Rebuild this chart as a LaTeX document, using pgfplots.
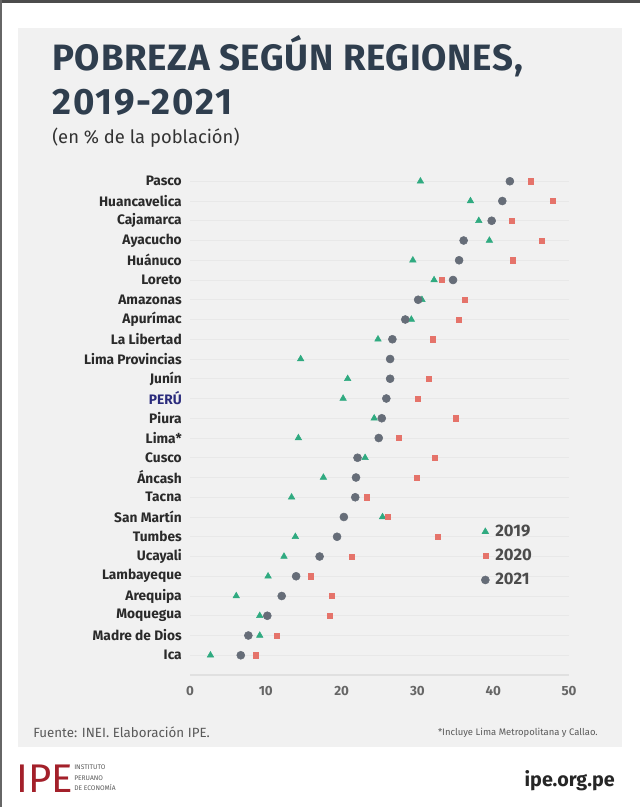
\documentclass[border=0pt]{standalone}
\usepackage{pgfplots}
\pgfplotsset{compat=1.18}
\usepackage{fontspec}
\setmainfont{Fira Sans}
\definecolor{panel}{HTML}{F1F1F1}
\definecolor{ttl}{HTML}{2F3E4E}
\definecolor{lbl}{HTML}{2A2A2A}
\definecolor{peru}{HTML}{2A2B7C}
\definecolor{gA}{HTML}{2FAA80}
\definecolor{sB}{HTML}{E5736A}
\definecolor{cC}{HTML}{666D78}
\definecolor{ipered}{HTML}{A3202A}
\begin{document}
\begin{tikzpicture}
\begin{scope}[x=0.75pt,y=-0.75pt]
\fill[white] (0,0) rectangle (640,807);
\fill[black!70] (0,0) rectangle (640,3);
\fill[black!60] (0,0) rectangle (2,807);
\fill[panel] (18,28) rectangle (622,747);
\node[anchor=base west,inner sep=0pt,text=ttl,font=\fontsize{27.5}{30}\selectfont\bfseries\addfontfeature{LetterSpace=2}] at (52,70) {POBREZA SEGÚN REGIONES,};
\node[anchor=base west,inner sep=0pt,text=ttl,font=\fontsize{27.5}{30}\selectfont\bfseries\addfontfeature{LetterSpace=5}] at (52,114) {2019-2021};
\node[anchor=base west,inner sep=0pt,text=black!80,font=\fontsize{13.8}{15}\selectfont] at (52,143) {(en \% de la población)};
\node[anchor=base west,inner sep=0pt,text=black!65,font=\fontsize{10}{11}\selectfont] at (33,737) {Fuente: INEI. Elaboración IPE.};
\node[anchor=base east,inner sep=0pt,text=black!65,font=\fontsize{7.1}{8}\selectfont] at (598,735) {*Incluye Lima Metropolitana y Callao.};
\node[anchor=base west,inner sep=0pt,text=ipered,font=\fontsize{30}{32}\selectfont] at (16,792) {IPE};
\node[anchor=base west,inner sep=0pt,text=black!65,font=\fontsize{5}{6}\selectfont] at (74,769.5) {INSTITUTO};
\node[anchor=base west,inner sep=0pt,text=black!65,font=\fontsize{5}{6}\selectfont] at (74,780) {PERUANO};
\node[anchor=base west,inner sep=0pt,text=black!65,font=\fontsize{5}{6}\selectfont] at (74,790.5) {DE ECONOMÍA};
\node[anchor=base east,inner sep=0pt,text=black!85,font=\fontsize{14.8}{16}\selectfont\bfseries] at (615,786) {ipe.org.pe};
\end{scope}
\begin{axis}[
  at={(142.5pt,-506.25pt)}, anchor=south west,
  scale only axis, width=284.25pt, height=377.72pt,
  xmin=0, xmax=50, ymin=-1, ymax=24.5,
  axis x line*=bottom, axis line style={-,draw=black!12,line width=0.8pt},
  axis y line*=left, y axis line style={draw=none},
  major tick length=0pt,
  xtick={0,10,...,50},
  ytick={0,...,24},
  yticklabels={Ica,Madre de Dios,Moquegua,Arequipa,Lambayeque,Ucayali,Tumbes,San Martín,Tacna,Áncash,Cusco,Lima*,Piura,{\color{peru}PERÚ},Junín,Lima Provincias,La Libertad,Apurímac,Amazonas,Loreto,Huánuco,Ayacucho,Cajamarca,Huancavelica,Pasco},
  yticklabel style={font=\fontsize{10.3}{11}\selectfont\bfseries, text=lbl, inner sep=0pt, xshift=-6pt},
  xticklabel style={font=\fontsize{10}{12}\selectfont\bfseries, text=black!60, yshift=-5pt},
  /pgf/number format/assume math mode=true,
  ymajorgrids, grid style={draw=black!9,line width=0.6pt},
  legend style={at={(axis cs:38.4,6.75)}, anchor=north west, draw=none, fill=none,
    font=\fontsize{12.5}{14}\selectfont\bfseries, text=black!70, row sep=4pt, inner sep=0pt,
    /tikz/every odd column/.append style={column sep=2.5pt}},
  legend cell align=left,
  clip=false,
]
\addplot[only marks, mark=triangle*, mark size=2.8pt, color=gA] coordinates {
(30.4,24) (37.0,23) (38.1,22) (39.5,21) (29.4,20) (32.2,19) (30.6,18) (29.2,17)
(24.8,16) (14.6,15) (20.8,14) (20.2,13) (24.3,12) (14.3,11) (23.1,10) (17.6,9)
(13.4,8) (25.4,7) (13.9,6) (12.4,5) (10.3,4) (6.1,3) (9.2,2) (9.2,1) (2.7,0)};
\addlegendentry{2019}
\addplot[only marks, mark=square*, mark size=1.9pt, color=sB] coordinates {
(44.9,24) (47.8,23) (42.5,22) (46.4,21) (42.6,20) (33.2,19) (36.2,18) (35.5,17)
(32.0,16) (31.5,14) (30.1,13) (35.0,12) (27.6,11) (32.3,10) (29.9,9)
(23.3,8) (26.1,7) (32.7,6) (21.3,5) (15.9,4) (18.7,3) (18.4,2) (11.4,1) (8.7,0)};
\addlegendentry{2020}
\addplot[only marks, mark=*, mark size=3pt, color=cC] coordinates {
(42.2,24) (41.2,23) (39.8,22) (36.1,21) (35.5,20) (34.7,19) (30.1,18) (28.4,17)
(26.7,16) (26.4,15) (26.4,14) (25.9,13) (25.3,12) (24.9,11) (22.1,10) (21.9,9)
(21.8,8) (20.3,7) (19.4,6) (17.1,5) (14.0,4) (12.1,3) (10.2,2) (7.7,1) (6.7,0)};
\addlegendentry{2021}
\end{axis}
\end{tikzpicture}
\end{document}
